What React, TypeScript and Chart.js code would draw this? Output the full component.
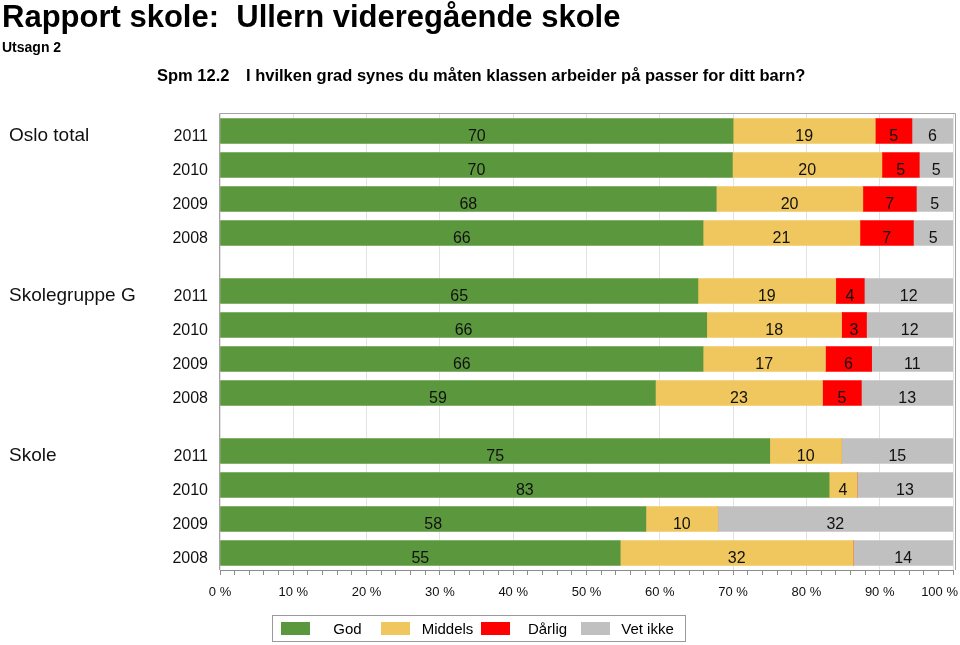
import React, { useEffect, useRef } from 'react';
import { Chart, registerables } from 'chart.js';

Chart.register(...registerables);

const FONT = '"Liberation Sans", Arial, Helvetica, sans-serif';

// ---- Data ----
const groups = ['Oslo total', 'Skolegruppe G', 'Skole'];
const years = ['2011', '2010', '2009', '2008'];
const seriesNames = ['God', 'Middels', 'Dårlig', 'Vet ikke'];
// rows: Oslo total 2011..2008, Skolegruppe G 2011..2008, Skole 2011..2008 (percent)
const god = [70.0, 69.9, 67.7, 65.9, 65.2, 66.4, 65.9, 59.4, 75.0, 83.1, 58.1, 54.6];
const middels = [19.4, 20.4, 20.0, 21.4, 18.8, 18.4, 16.7, 22.8, 9.8, 3.8, 9.8, 31.8];
const darlig = [5.0, 5.1, 7.3, 7.3, 3.9, 3.4, 6.3, 5.3, 0, 0, 0, 0];
const vetIkke = [5.6, 4.6, 5.0, 5.4, 12.1, 11.8, 11.1, 12.5, 15.2, 13.1, 32.1, 13.6];
const xTickValues = [0, 10, 20, 30, 40, 50, 60, 70, 80, 90, 100];

const colors = ['#5b983d', '#efc75e', '#ff0000', '#c0c0c0'];
const GROUP_GAP = 0.706;

function rowPos(i: number) {
  const n = years.length;
  const g = Math.floor(i / n);
  const j = i % n;
  return g * (n + GROUP_GAP) + j;
}

export default function App() {
  const ref = useRef<HTMLCanvasElement>(null);

  useEffect(() => {
    const series = [god, middels, darlig, vetIkke];
    const datasets = seriesNames.map((name, s) => ({
      label: name,
      data: series[s].map((v, i) => ({ x: v, y: rowPos(i) })),
      backgroundColor: colors[s],
      borderWidth: 0,
      barThickness: 25,
    }));

    const labelsPlugin = {
      id: 'customLabels',
      afterDraw(chart: any) {
        const ctx = chart.ctx as CanvasRenderingContext2D;
        const xs = chart.scales.x;
        const ys = chart.scales.y;
        const a = chart.chartArea;
        ctx.save();
        // plot frame
        ctx.strokeStyle = '#a3a3a3';
        ctx.lineWidth = 1;
        ctx.beginPath();
        ctx.moveTo(a.left - 0.5, a.bottom);
        ctx.lineTo(a.left - 0.5, a.top - 0.5);
        ctx.lineTo(a.right + 2.5, a.top - 0.5);
        ctx.lineTo(a.right + 2.5, a.bottom);
        ctx.stroke();

        // value labels
        ctx.fillStyle = '#111';
        ctx.font = `16px ${FONT}`;
        ctx.textAlign = 'center';
        ctx.textBaseline = 'alphabetic';
        series.forEach((vals, s) => {
          const meta = chart.getDatasetMeta(s);
          meta.data.forEach((el: any, i: number) => {
            const v = vals[i];
            if (!(v > 0)) return;
            const p = el.getProps(['x', 'base', 'y'], true);
            ctx.fillText(String(Math.round(v)), (p.x + p.base) / 2, p.y + 10);
          });
        });

        // year labels
        ctx.textAlign = 'right';
        ctx.font = `16px ${FONT}`;
        god.forEach((_, i) => {
          const y = ys.getPixelForValue(rowPos(i));
          ctx.fillText(years[i % years.length], a.left - 12, y + 10);
        });
        // group labels
        ctx.textAlign = 'left';
        ctx.font = `19px ${FONT}`;
        groups.forEach((g, gi) => {
          const y = ys.getPixelForValue(rowPos(gi * years.length));
          ctx.fillText(g, 9, y + 10);
        });

        // x tick labels
        ctx.font = `13px ${FONT}`;
        ctx.textAlign = 'center';
        xTickValues.forEach((v) => {
          const t = `${v} %`;
          const w = ctx.measureText(t).width;
          let px = xs.getPixelForValue(v);
          if (px + w / 2 > chart.width - 2) px = chart.width - 2 - w / 2;
          ctx.fillText(t, px, a.bottom + 26);
        });
        ctx.restore();
      },
    };

    const chart = new Chart(ref.current!, {
      type: 'bar',
      data: { datasets } as any,
      options: {
        indexAxis: 'y',
        animation: false,
        responsive: false,
        maintainAspectRatio: false,
        layout: { padding: { left: 220, right: 7, top: 114, bottom: 65 } },
        plugins: { legend: { display: false }, tooltip: { enabled: false }, title: { display: false } },
        scales: {
          x: {
            type: 'linear',
            stacked: true,
            min: 0,
            max: 100,
            offset: false,
            afterFit: (s: any) => {
              s.height = 10;
              s.paddingLeft = 0;
              s.paddingRight = 0;
            },
            ticks: { display: false, stepSize: 2, autoSkip: false },
            border: { display: true, color: '#8c8c8c' },
            grid: {
              offset: false,
              color: (c: any) => (c.tick && c.tick.value % 10 === 0 ? '#e3e3e3' : 'rgba(0,0,0,0)'),
              tickColor: '#8c8c8c',
              tickLength: 5,
              drawTicks: true,
            },
          },
          y: {
            type: 'linear',
            stacked: true,
            reverse: true,
            display: false,
            offset: false,
            grid: { offset: false },
            min: -0.5,
            max: rowPos(god.length - 1) + 0.5,
          },
        },
      } as any,
      plugins: [labelsPlugin],
    });
    return () => chart.destroy();
  }, []);

  const txt: React.CSSProperties = {
    position: 'absolute',
    fontFamily: FONT,
    fontWeight: 'bold',
    whiteSpace: 'pre',
    color: '#000',
    margin: 0,
  };

  return (
    <div style={{ position: 'absolute', left: 0, top: 0, width: 960, height: 645, background: '#fff', overflow: 'hidden' }}>
      <canvas ref={ref} width={960} height={645} style={{ position: 'absolute', left: 0, top: 0, width: 960, height: 645 }} />
      <div style={{ ...txt, left: 2, top: 1, fontSize: 31, lineHeight: '31px' }}>Rapport skole:  Ullern videregående skole</div>
      <div style={{ ...txt, left: 2, top: 40, fontSize: 14, lineHeight: '14px' }}>Utsagn 2</div>
      <div style={{ ...txt, left: 157, top: 67, fontSize: 16.5, lineHeight: '16px' }}>Spm 12.2</div>
      <div style={{ ...txt, left: 246, top: 67, fontSize: 16.5, lineHeight: '16px' }}>I hvilken grad synes du måten klassen arbeider på passer for ditt barn?</div>
      <div
        style={{
          position: 'absolute',
          left: 272,
          top: 615,
          width: 414,
          height: 27,
          boxSizing: 'border-box',
          border: '1px solid #9a9a9a',
          display: 'flex',
          alignItems: 'center',
          paddingLeft: 8,
          fontFamily: FONT,
          fontSize: 15,
        }}
      >
        {seriesNames.map((n, i) => (
          <div key={n} style={{ display: 'flex', alignItems: 'center', width: 100 }}>
            <div style={{ width: 29, height: 13, background: colors[i] }} />
            <div style={{ width: 71, textAlign: 'center', paddingLeft: 4, boxSizing: 'border-box' }}>{n}</div>
          </div>
        ))}
      </div>
    </div>
  );
}
